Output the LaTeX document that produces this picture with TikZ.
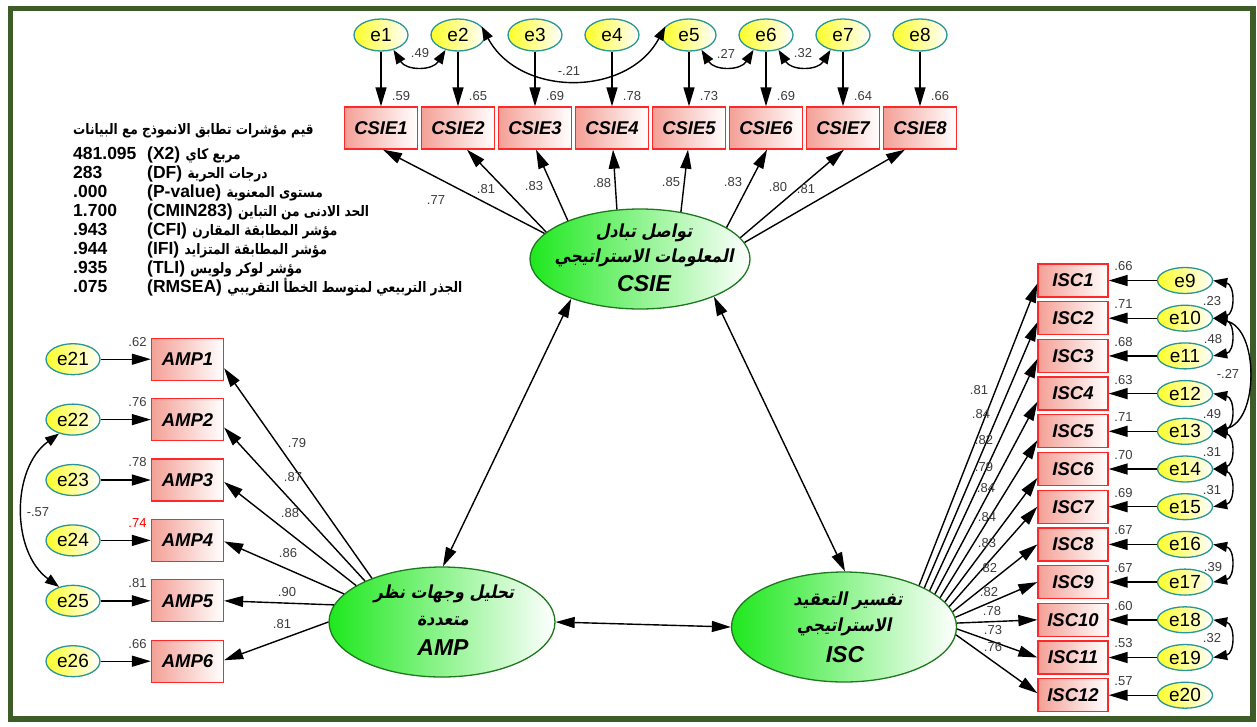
\documentclass[tikz,border=0pt]{standalone}
\usepackage{fontspec}
\setmainfont{Liberation Sans}
\newfontfamily\arbold[Script=Arabic,FakeStretch=0.84]{DejaVu Sans Bold}
\newfontfamily\arslant[Script=Arabic,FakeSlant=0.2,FakeStretch=0.88]{DejaVu Sans Bold}
\TeXXeTstate=1
\usetikzlibrary{arrows.meta,calc,shapes.geometric}

\definecolor{framegreen}{RGB}{61,92,40}
\definecolor{latgreen}{RGB}{30,232,30}
\definecolor{latborder}{RGB}{30,120,30}
\definecolor{boxred}{RGB}{255,40,40}
\definecolor{boxfill}{RGB}{244,160,150}
\definecolor{erryellow}{RGB}{255,255,40}
\definecolor{errteal}{RGB}{40,150,150}
\definecolor{lblgray}{RGB}{60,60,60}

\begin{document}
\begin{tikzpicture}[x=1pt,y=-1pt,
  obs/.style={draw=boxred,line width=1.3pt,left color=boxfill,right color=white,
    minimum width=73pt,minimum height=42pt,inner sep=0pt,
    font=\fontsize{18.5}{20}\selectfont\bfseries\itshape},
  obsisc/.style={obs,minimum width=70pt,minimum height=33pt},
  err/.style={ellipse,draw=errteal,line width=1.3pt,left color=erryellow,right color=white,
    minimum width=54pt,minimum height=32pt,inner sep=0pt,font=\fontsize{19}{20}\selectfont},
  errs/.style={err,minimum width=55pt,minimum height=26pt},
  lat/.style={ellipse,draw=latborder,line width=1.3pt,left color=latgreen,right color=white,inner sep=0pt},
  lattxt/.style={inner sep=0pt,font=\fontsize{18}{20}\selectfont\arslant},
  latcode/.style={inner sep=0pt,font=\fontsize{23}{24}\selectfont\bfseries\itshape},
  ld/.style={inner sep=0pt,text=lblgray,font=\fontsize{13}{14}\selectfont},
  fitnum/.style={inner sep=0pt,anchor=base west,font=\fontsize{17.5}{19}\selectfont\bfseries},
  fitar/.style={inner sep=0pt,anchor=base west,font=\fontsize{14.5}{19}\selectfont\arbold},
  regr/.style={line width=1.4pt,-{Triangle[length=19pt,width=11pt]}},
  cov/.style={line width=1.4pt,{Triangle[length=14pt,width=10pt]}-{Triangle[length=14pt,width=10pt]}},
  dbl/.style={line width=1.4pt,{Triangle[length=19pt,width=11pt]}-{Triangle[length=19pt,width=11pt]}}
]
\useasboundingbox (0,0) rectangle (1257,726);
\fill[white] (0,0) rectangle (1257,726);
\draw[framegreen,line width=5.5pt] (10.5,8.5) rectangle (1253,719);

% latent variables
\node[lat,minimum width=220pt,minimum height=100pt] (CSIE) at (640,259) {};
\node[lat,minimum width=226pt,minimum height=110pt] (AMP) at (442,622) {};
\node[lat,minimum width=225pt,minimum height=110pt] (ISC) at (844,627) {};
\node[lattxt] (CSIEa) at (644,233) {\beginR تواصل تبادل\endR};
\node[lattxt] (CSIEb) at (644,258) {\beginR المعلومات الاستراتيجي\endR};
\node[latcode] (CSIEc) at (644,284) {CSIE};
\node[lattxt] (AMPa) at (444,594) {\beginR تحليل وجهات نظر\endR};
\node[lattxt] (AMPb) at (443,621) {\beginR متعددة\endR};
\node[latcode] (AMPc) at (443,647.5) {AMP};
\node[lattxt] (ISCa) at (848,601) {\beginR تفسير التعقيد\endR};
\node[lattxt] (ISCb) at (844,627) {\beginR الاستراتيجي\endR};
\node[latcode] (ISCc) at (845,654.5) {ISC};

% CSIE indicators and their errors
\foreach \i/\x/\v in {1/381/.59,2/458/.65,3/535/.69,4/612/.78,5/689/.73,6/766/.69,7/843/.64,8/920/.66}{
  \node[obs] (CSIE\i) at (\x,128) {CSIE\i};
  \node[err] (e\i) at (\x,35) {e\i};
  \draw[regr] (e\i) -- (CSIE\i);
  \node[ld] (le\i) at (\x+20,96) {\v};
}
\foreach \i/\a/\o/\v/\lx/\ly in {1/165/2/.77/436/200,2/164/9/.81/486/189,3/152/1/.83/534/186,
  4/115/1/.88/602/183,5/49/-1/.85/671/182,6/20/1/.83/733/182,7/12/1/.80/778/187,8/9/-15/.81/806/189}{
  \draw[regr] (CSIE.\a) -- ($(CSIE\i.south)+(\o,0)$);
  \node[ld] (lcs\i) at (\lx,\ly) {\v};
}
% error covariances, top row
\draw[cov] (e1.-50) .. controls +(13,21) and +(-13,21) .. (e2.-130);
\node[ld] (c12) at (420,53.5) {.49};
\draw[cov] (e2.20) .. controls +(38,71) and +(-38,71) .. (e5.160);
\node[ld] (c25) at (569,70.5) {-.21};
\draw[cov] (e5.-50) .. controls +(13,21) and +(-13,21) .. (e6.-130);
\node[ld] (c56) at (726,53.5) {.27};
\draw[cov] (e6.-50) .. controls +(13,21) and +(-13,21) .. (e7.-130);
\node[ld] (c67) at (803,53.5) {.32};

% AMP indicators and their errors
\foreach \k/\v/\c in {1/.62/lblgray,2/.76/lblgray,3/.78/lblgray,4/.74/red,5/.81/lblgray,6/.66/lblgray}{
  \pgfmathsetmacro\yy{359.2+60.4*(\k-1)}
  \pgfmathtruncatemacro\ei{\k+20}
  \node[obs,minimum width=72pt] (AMP\k) at (187.5,\yy) {AMP\k};
  \node[err,minimum height=31pt] (e\ei) at (73,\yy) {e\ei};
  \draw[regr] (e\ei) -- (AMP\k);
  \node[ld,text=\c] (la\k) at (137.5,\yy-17.5) {\v};
}
\foreach \k/\a/\o/\v/\lx/\ly in {1/148/9/.79/297/443,2/152/8/.87/293/477,3/157/2/.88/290/513,
  4/164/1/.86/288/553,5/171/0/.90/287/592,6/180/-1/.81/282/624}{
  \draw[regr] (AMP.\a) -- ($(AMP\k.east)+(0,\o)$);
  \node[ld] (lam\k) at (\lx,\ly) {\v};
}
\draw[cov] (e22.225) .. controls +(-48,35) and +(-48,-35) .. (e25.135);
\node[ld] (c2225) at (38,512) {-.57};

% ISC indicators and their errors
\foreach \k/\v in {1/.66,2/.71,3/.68,4/.63,5/.71,6/.70,7/.69,8/.67,9/.67,10/.60,11/.53,12/.57}{
  \pgfmathsetmacro\yy{280.5+37.7*(\k-1)}
  \pgfmathtruncatemacro\ei{\k+8}
  \node[obsisc] (ISC\k) at (1073,\yy) {ISC\k};
  \node[errs] (e\ei) at (1185,\yy) {e\ei};
  \draw[regr] (e\ei) -- (ISC\k);
  \node[ld] (li\k) at (1123.5,\yy-14) {\v};
}
\foreach \k/\a/\o/\v/\lx/\ly in {1/29/3/.81/979/390,2/26/4/.84/981/414,3/23/3/.82/984/440,
  4/20/8/.79/984/467,5/17/9/.84/986/488,6/14/9/.84/987/517,7/11/0/.83/987/543,
  8/8/0/.82/988/568,9/5/0/.82/989/592,10/2/0/.78/992/611,11/-1/0/.73/993/630,12/-4/-2/.76/993/647}{
  \draw[regr] (ISC.\a) -- ($(ISC\k.west)+(0,\o)$);
  \node[ld] (lis\k) at (\lx,\ly) {\v};
}
% error covariances, right column
\draw[cov] (e9.east) .. controls +(22,4) and +(22,-4) .. (e10.east);
\node[ld] (c910) at (1212,301) {.23};
\draw[cov] (e10.east) .. controls +(22,4) and +(22,-4) .. (e11.east);
\node[ld] (c1011) at (1213,339) {.48};
\draw[cov] (e10.east) .. controls +(46,10) and +(46,-10) .. (e13.east);
\node[ld] (c1013) at (1228,374) {-.27};
\draw[cov] (e12.east) .. controls +(22,4) and +(22,-4) .. (e13.east);
\node[ld] (c1213) at (1212,414) {.49};
\draw[cov] (e13.east) .. controls +(22,4) and +(22,-4) .. (e14.east);
\node[ld] (c1314) at (1212,452) {.31};
\draw[cov] (e14.east) .. controls +(22,4) and +(22,-4) .. (e15.east);
\node[ld] (c1415) at (1212,490) {.31};
\draw[cov] (e16.east) .. controls +(22,4) and +(22,-4) .. (e17.east);
\node[ld] (c1617) at (1213,567) {.39};
\draw[cov] (e18.east) .. controls +(22,4) and +(22,-4) .. (e19.east);
\node[ld] (c1819) at (1212,638) {.32};

% correlations between latent variables
\draw[dbl] (CSIE.210) -- (AMP.89);
\draw[dbl] (CSIE.-27) -- (ISC.89);
\draw[dbl] (AMP.east) -- (ISC.west);

% model fit indices
\node[fitar] (fittitle) at (73,134) {\beginR قيم مؤشرات تطابق الانموذج مع البيانات\endR};
\foreach \k/\n/\p/\t in {1/481.095/X2/{مربع كاي},2/283/DF/{درجات الحرية},3/.000/P-value/{مستوى المعنوية},
  4/1.700/CMIN283/{الحد الادنى من التباين},5/.943/CFI/{مؤشر المطابقة المقارن},
  6/.944/IFI/{مؤشر المطابقة المتزايد},7/.935/TLI/{مؤشر لوكر ولويس},
  8/.075/RMSEA/{الجذر التربيعي لمتوسط الخطأ التقريبي}}{
  \node[fitnum] (fn\k) at (73,159+19*\k-19) {\n};
  \node[fitnum] (fp\k) at (147,159+19*\k-19) {(\p)};
  \node[fitar] (fa\k) at ($(fp\k.base east)+(5,0)$) {\beginR\t\endR};
}
\end{tikzpicture}
\end{document}
